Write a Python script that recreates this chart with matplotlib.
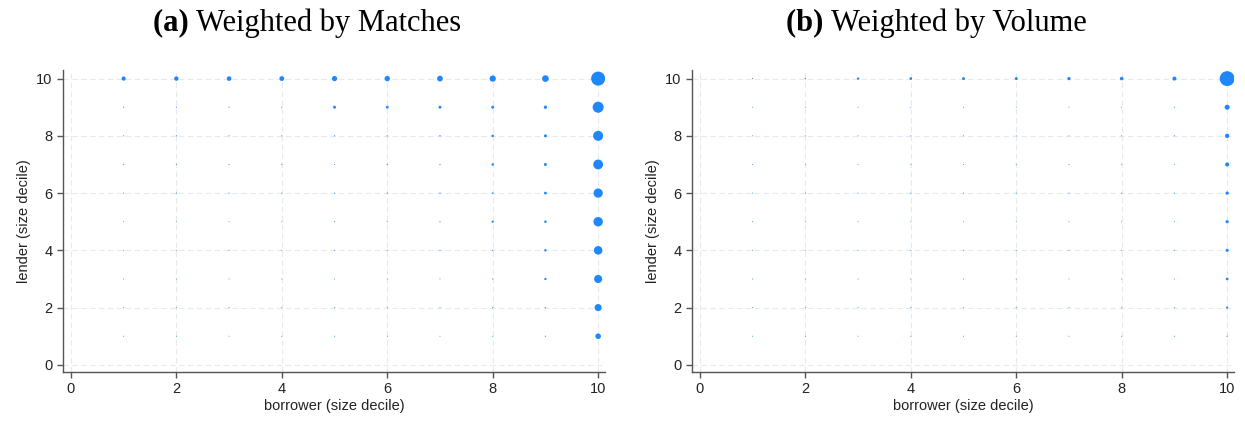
import matplotlib.pyplot as plt
import numpy as np

# borrower / lender size deciles
deciles = list(range(1, 11))

# share of matches (%) by cell; rows = lender decile 1..10, cols = borrower decile 1..10
matches = [
    [0.05, 0.05, 0.05, 0.05, 0.05, 0.05, 0.05, 0.05, 0.07, 1.6],
    [0.05, 0.05, 0.05, 0.05, 0.05, 0.05, 0.05, 0.06, 0.08, 2.6],
    [0.05, 0.05, 0.05, 0.05, 0.05, 0.05, 0.05, 0.07, 0.28, 3.4],
    [0.05, 0.05, 0.05, 0.05, 0.05, 0.05, 0.06, 0.08, 0.30, 3.8],
    [0.05, 0.05, 0.05, 0.05, 0.06, 0.06, 0.07, 0.25, 0.32, 4.6],
    [0.06, 0.06, 0.06, 0.06, 0.06, 0.07, 0.08, 0.12, 0.40, 4.4],
    [0.06, 0.06, 0.06, 0.06, 0.06, 0.07, 0.08, 0.32, 0.45, 5.0],
    [0.06, 0.07, 0.06, 0.06, 0.07, 0.08, 0.10, 0.32, 0.45, 5.2],
    [0.07, 0.07, 0.07, 0.07, 0.45, 0.40, 0.45, 0.45, 0.55, 6.3],
    [0.90, 1.00, 1.10, 1.20, 1.40, 1.50, 1.70, 2.00, 2.30, 10.2],
]

# share of volume (%) by cell, same layout
volume = [
    [0.05, 0.05, 0.05, 0.05, 0.05, 0.05, 0.05, 0.05, 0.05, 0.08],
    [0.05, 0.05, 0.05, 0.05, 0.05, 0.05, 0.05, 0.05, 0.05, 0.25],
    [0.05, 0.05, 0.05, 0.05, 0.05, 0.05, 0.05, 0.05, 0.05, 0.38],
    [0.05, 0.05, 0.05, 0.05, 0.05, 0.05, 0.05, 0.05, 0.05, 0.47],
    [0.05, 0.05, 0.05, 0.05, 0.05, 0.05, 0.05, 0.05, 0.05, 0.52],
    [0.05, 0.05, 0.05, 0.05, 0.05, 0.05, 0.05, 0.05, 0.05, 0.56],
    [0.05, 0.05, 0.05, 0.05, 0.05, 0.05, 0.05, 0.05, 0.05, 0.85],
    [0.05, 0.05, 0.05, 0.05, 0.05, 0.05, 0.05, 0.05, 0.06, 0.95],
    [0.05, 0.05, 0.05, 0.05, 0.05, 0.05, 0.05, 0.05, 0.06, 1.30],
    [0.07, 0.09, 0.30, 0.38, 0.45, 0.45, 0.55, 0.65, 0.85, 11.5],
]

titles = [("(a)", "Weighted by Matches"), ("(b)", "Weighted by Volume")]
ticks = [0, 2, 4, 6, 8, 10]

dot_color = "#1e87fa"
scale = 10.0  # marker area (pt^2) per percentage point

plt.rcParams["font.family"] = ["Liberation Sans", "DejaVu Sans"]

fig = plt.figure(figsize=(12.45, 4.21), dpi=100)
ax_a = fig.add_axes([63 / 1245, 49 / 421, 542 / 1245, 302 / 421])
ax_b = fig.add_axes([692 / 1245, 49 / 421, 542 / 1245, 302 / 421])

X, Y = np.meshgrid(deciles, deciles)
heads = []

for ax, data, (tag, name), cx in zip([ax_a, ax_b], [matches, volume], titles, [307, 936]):
    w = np.array(data)
    ax.scatter(X.ravel(), Y.ravel(), s=w.ravel() * scale, color=dot_color,
               linewidths=0, zorder=3)
    ax.set_xlim(-0.15, 10.13)
    ax.set_ylim(-0.25, 10.3)
    ax.set_xticks(ticks)
    ax.set_yticks(ticks)
    ax.grid(True, color="#e6e9ee", linestyle=(0, (5, 3)), linewidth=0.8, zorder=0)
    for s in ["top", "right"]:
        ax.spines[s].set_visible(False)
    for s in ["left", "bottom"]:
        ax.spines[s].set_color("#555555")
        ax.spines[s].set_linewidth(1.0)
    ax.tick_params(direction="out", length=4, width=1, color="#555555",
                   labelsize=10.5, labelcolor="#222222")
    ax.set_xlabel("borrower (size decile)", fontsize=10.5, color="#222222", labelpad=2)
    ax.set_ylabel("lender (size decile)", fontsize=10.5, color="#222222", labelpad=4)

    # panel heading: bold tag + regular text
    t1 = fig.text(0, 0.945, tag + " ", fontsize=22, fontweight="bold",
                  family="Liberation Serif", ha="left", va="center")
    t2 = fig.text(0, 0.945, name, fontsize=22, family="Liberation Serif",
                  ha="left", va="center")
    heads.append((t1, t2, cx))

fig.canvas.draw()
r = fig.canvas.get_renderer()
for t1, t2, cx in heads:
    w1 = t1.get_window_extent(r).width
    w2 = t2.get_window_extent(r).width
    x0 = cx - (w1 + w2) / 2
    t1.set_x(x0 / 1245)
    t2.set_x((x0 + w1) / 1245)

fig.savefig("out.png", dpi=100)
